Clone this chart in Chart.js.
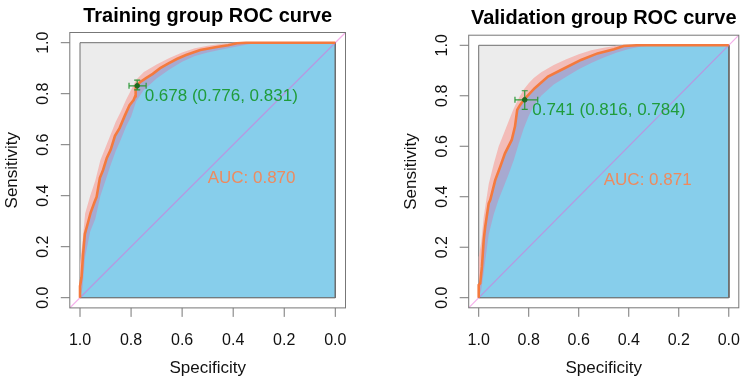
<!DOCTYPE html>
<html>
<head>
<meta charset="utf-8">
<script src="https://cdn.jsdelivr.net/npm/chart.js@4.4.1/dist/chart.umd.min.js"></script>
<style>
  html, body { margin: 0; padding: 0; background: #fff; }
  #wrap { position: relative; width: 744px; height: 380px; overflow: hidden; }
  .panel { position: absolute; top: 0; width: 372px; height: 380px; }
</style>
</head>
<body>
<div id="wrap">
  <div class="panel" style="left:0"><canvas id="trainChart" width="372" height="380"></canvas></div>
  <div class="panel" style="left:372px"><canvas id="validChart" width="372" height="380"></canvas></div>
</div>
<script>
const TICKS = [0, 0.2, 0.4, 0.6, 0.8, 1.0];
const TITLES = ["Training group ROC curve", "Validation group ROC curve"];
const AUC = [0.870, 0.871];
const THRESHOLDS = [0.678, 0.741];
const BEST_SPEC = [0.776, 0.816];
const BEST_SENS = [0.831, 0.784];

const TRAIN_SPEC = [1.000, 1.000, 0.994, 0.988, 0.981, 0.970, 0.958, 0.943, 0.935, 0.922, 0.910, 0.895, 0.880, 0.863, 0.845, 0.824, 0.806, 0.790, 0.784, 0.782, 0.776, 0.765, 0.740, 0.715, 0.686, 0.655, 0.621, 0.585, 0.529, 0.470, 0.420, 0.385, 0.350, 0.000];
const TRAIN_SENS = [0.000, 0.045, 0.080, 0.170, 0.250, 0.290, 0.335, 0.375, 0.395, 0.470, 0.500, 0.548, 0.580, 0.635, 0.665, 0.715, 0.755, 0.775, 0.790, 0.825, 0.832, 0.845, 0.862, 0.878, 0.900, 0.918, 0.936, 0.952, 0.971, 0.982, 0.990, 0.998, 1.000, 1.000];

const VALID_SPEC = [1.000, 1.000, 0.994, 0.987, 0.980, 0.974, 0.960, 0.954, 0.934, 0.914, 0.895, 0.868, 0.855, 0.846, 0.835, 0.818, 0.776, 0.723, 0.657, 0.591, 0.525, 0.459, 0.420, 0.367, 0.000];
const VALID_SENS = [0.000, 0.050, 0.057, 0.123, 0.229, 0.281, 0.374, 0.387, 0.466, 0.519, 0.572, 0.625, 0.678, 0.744, 0.763, 0.786, 0.830, 0.876, 0.909, 0.942, 0.968, 0.984, 0.997, 1.000, 1.000];

// sensitivity confidence band, read at these specificities
const CI_SPEC = [1.00, 0.99, 0.98, 0.96, 0.94, 0.92, 0.90, 0.88, 0.86, 0.84, 0.82, 0.80, 0.78, 0.75, 0.70, 0.65, 0.60, 0.55, 0.50, 0.45, 0.40, 0.35, 0.30, 0.00];
const TRAIN_CI_UPPER = [0.13, 0.22, 0.33, 0.40, 0.46, 0.54, 0.59, 0.64, 0.69, 0.73, 0.775, 0.815, 0.855, 0.885, 0.915, 0.94, 0.962, 0.978, 0.988, 0.995, 1.0, 1.0, 1.0, 1.0];
const TRAIN_CI_LOWER = [0.00, 0.04, 0.16, 0.26, 0.31, 0.40, 0.46, 0.52, 0.575, 0.62, 0.67, 0.71, 0.77, 0.815, 0.86, 0.895, 0.925, 0.948, 0.962, 0.972, 0.982, 0.992, 1.0, 1.0];
const VALID_CI_UPPER = [0.16, 0.22, 0.32, 0.45, 0.53, 0.60, 0.65, 0.70, 0.75, 0.79, 0.825, 0.85, 0.87, 0.893, 0.922, 0.945, 0.965, 0.98, 0.99, 0.998, 1.0, 1.0, 1.0, 1.0];
const VALID_CI_LOWER = [0.00, 0.03, 0.10, 0.25, 0.33, 0.39, 0.44, 0.49, 0.545, 0.61, 0.67, 0.72, 0.76, 0.80, 0.845, 0.875, 0.905, 0.93, 0.952, 0.97, 0.985, 0.995, 1.0, 1.0];

// CI of the best threshold: [spec from, spec to], [sens from, sens to]
const TRAIN_BEST_SP_CI = [0.808, 0.741];
const TRAIN_BEST_SE_CI = [0.815, 0.853];
const VALID_BEST_SP_CI = [0.855, 0.764];
const VALID_BEST_SE_CI = [0.746, 0.820];

const FONT = '"Liberation Sans", Arial, Helvetica, sans-serif';
const COLOR_CURVE = "#F47A3E";
const COLOR_AUC_TEXT = "#EE8A5E";
const COLOR_GREEN = "#2E9A3A";
const COLOR_GREEN_TEXT = "#1F9C3B";
const COLOR_GREEN_DARK = "#1F6A1F";
const COLOR_SKY = "#87CEEB";
const COLOR_GREY = "#ECECEC";
const COLOR_PINK = "#F3BCB8";
const COLOR_MAUVE = "#A7A9D0";
const COLOR_DIAG = "rgba(235, 95, 215, 0.5)";
const COLOR_BORDER = "#6E6E6E";
const COLOR_BOX = "#777777";

function pts(xs, ys) {
  return xs.map((x, i) => ({ x: x, y: ys[i] }));
}

function buildDatasets(p) {
  const curve = pts(p.spec, p.sens);
  const upper = pts(CI_SPEC, p.ciUpper);
  const lower = pts(CI_SPEC, p.ciLower);
  const back = curve.slice().reverse();
  const best = { x: p.bestSpec, y: p.bestSens };

  return [
    {
      data: [best], showLine: false, pointRadius: 2.3,
      pointBackgroundColor: COLOR_GREEN_DARK, pointBorderColor: COLOR_GREEN_DARK, order: 0,
    },
    {
      data: [{ x: p.spCi[0], y: best.y }, { x: p.spCi[1], y: best.y }],
      borderColor: COLOR_GREEN, borderWidth: 1.2, pointStyle: "line", pointRotation: 90,
      pointRadius: 3, pointBorderWidth: 1.2, order: 1,
    },
    {
      data: [{ x: best.x, y: p.seCi[0] }, { x: best.x, y: p.seCi[1] }],
      borderColor: COLOR_GREEN, borderWidth: 1.2, pointStyle: "line", pointRotation: 0,
      pointRadius: 3, pointBorderWidth: 1.2, order: 1,
    },
    { data: curve, borderColor: COLOR_CURVE, borderWidth: 2.6, pointRadius: 0, order: 2 },
    {
      data: [{ x: 1.04, y: -0.04 }, { x: -0.04, y: 1.04 }],
      borderColor: COLOR_DIAG, borderWidth: 1.2, pointRadius: 0, order: 3,
    },
    {
      data: upper.concat(back), fill: "shape", backgroundColor: COLOR_PINK,
      borderWidth: 0, pointRadius: 0, order: 4,
    },
    {
      data: lower.concat(back), fill: "shape", backgroundColor: COLOR_MAUVE,
      borderWidth: 0, pointRadius: 0, order: 5,
    },
    {
      data: curve.concat([{ x: 0, y: 0 }, { x: 1, y: 0 }]), fill: "shape",
      backgroundColor: COLOR_SKY, borderColor: COLOR_BORDER, borderWidth: 1, pointRadius: 0, order: 6,
    },
    {
      data: [{ x: 1, y: 0 }, { x: 1, y: 1 }, { x: 0, y: 1 }, { x: 0, y: 0 }, { x: 1, y: 0 }],
      fill: "shape", backgroundColor: COLOR_GREY, borderColor: COLOR_BORDER,
      borderWidth: 1, pointRadius: 0, order: 7,
    },
  ];
}

function makeAxesPlugin(p) {
  return {
    id: "rAxes",
    afterDraw(chart) {
      const { ctx, chartArea: a } = chart;
      const xs = chart.scales.x;
      const ys = chart.scales.y;
      ctx.save();

      ctx.strokeStyle = COLOR_BOX;
      ctx.lineWidth = 1;
      ctx.strokeRect(a.left, a.top, a.right - a.left, a.bottom - a.top);

      ctx.fillStyle = "#111";
      ctx.font = "16px " + FONT;
      ctx.beginPath();
      xs.ticks.forEach((t) => {
        const px = xs.getPixelForValue(t.value);
        ctx.moveTo(px, a.bottom);
        ctx.lineTo(px, a.bottom + 9);
      });
      ys.ticks.forEach((t) => {
        const py = ys.getPixelForValue(t.value);
        ctx.moveTo(a.left, py);
        ctx.lineTo(a.left - 9, py);
      });
      ctx.stroke();

      ctx.textAlign = "center";
      ctx.textBaseline = "alphabetic";
      xs.ticks.forEach((t) => {
        ctx.fillText(t.value.toFixed(1), xs.getPixelForValue(t.value), a.bottom + 37);
      });
      ys.ticks.forEach((t) => {
        ctx.save();
        ctx.translate(a.left - 22, ys.getPixelForValue(t.value));
        ctx.rotate(-Math.PI / 2);
        ctx.fillText(t.value.toFixed(1), 0, 0);
        ctx.restore();
      });

      const cx = (a.left + a.right) / 2;
      const cy = (a.top + a.bottom) / 2;
      ctx.font = "17px " + FONT;
      ctx.fillText("Specificity", cx, a.bottom + 65.5);
      ctx.save();
      ctx.translate(a.left - 53, cy);
      ctx.rotate(-Math.PI / 2);
      ctx.fillText("Sensitivity", 0, 0);
      ctx.restore();

      ctx.fillStyle = "#000";
      ctx.font = "bold 20px " + FONT;
      ctx.fillText(p.title, cx, a.top - 11);

      ctx.textAlign = "left";
      ctx.font = "17px " + FONT;
      ctx.fillStyle = COLOR_AUC_TEXT;
      ctx.fillText("AUC: " + p.auc.toFixed(3), xs.getPixelForValue(0.5), ys.getPixelForValue(0.5) + 13);

      ctx.fillStyle = COLOR_GREEN_TEXT;
      const label = p.thres.toFixed(3) + " (" + p.bestSpec.toFixed(3) + ", " + p.bestSens.toFixed(3) + ")";
      ctx.fillText(label, xs.getPixelForValue(p.bestSpec) + 7.5, ys.getPixelForValue(p.bestSens) + 15.5);

      ctx.restore();
    },
  };
}

function renderPanel(p) {
  const canvas = document.getElementById(p.canvas);
  new Chart(canvas, {
    type: "line",
    data: { datasets: buildDatasets(p) },
    options: {
      responsive: false,
      animation: false,
      layout: { padding: p.padding },
      plugins: { legend: { display: false }, tooltip: { enabled: false } },
      scales: {
        x: {
          type: "linear", reverse: true, min: -0.04, max: 1.04, display: false,
          afterBuildTicks: (scale) => { scale.ticks = TICKS.map((v) => ({ value: v })); },
        },
        y: {
          type: "linear", min: -0.04, max: 1.04, display: false,
          afterBuildTicks: (scale) => { scale.ticks = TICKS.map((v) => ({ value: v })); },
        },
      },
    },
    plugins: [makeAxesPlugin(p)],
  });
}

renderPanel({
  canvas: "trainChart", title: TITLES[0], auc: AUC[0], thres: THRESHOLDS[0],
  spec: TRAIN_SPEC, sens: TRAIN_SENS, ciUpper: TRAIN_CI_UPPER, ciLower: TRAIN_CI_LOWER,
  bestSpec: BEST_SPEC[0], bestSens: BEST_SENS[0], spCi: TRAIN_BEST_SP_CI, seCi: TRAIN_BEST_SE_CI,
  padding: { left: 69.8, right: 26.5, top: 32.5, bottom: 72.1 },
});

renderPanel({
  canvas: "validChart", title: TITLES[1], auc: AUC[1], thres: THRESHOLDS[1],
  spec: VALID_SPEC, sens: VALID_SENS, ciUpper: VALID_CI_UPPER, ciLower: VALID_CI_LOWER,
  bestSpec: BEST_SPEC[1], bestSens: BEST_SENS[1], spCi: VALID_BEST_SP_CI, seCi: VALID_BEST_SE_CI,
  padding: { left: 96.7, right: 2.5, top: 35.2, bottom: 72.2 },
});
</script>
</body>
</html>
